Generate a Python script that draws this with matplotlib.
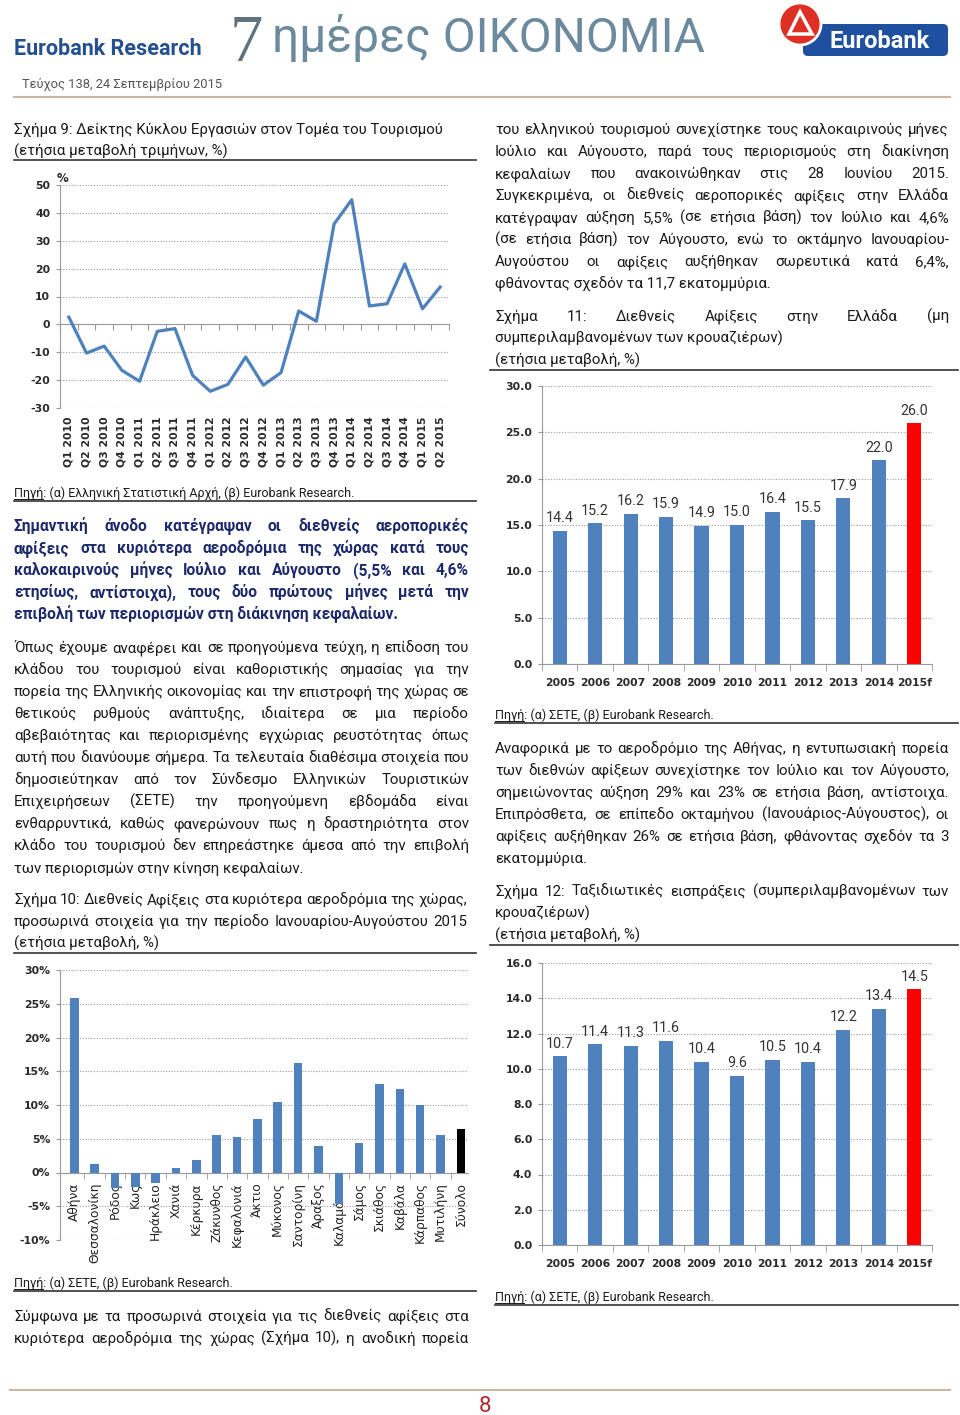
import matplotlib
matplotlib.use("Agg")
import matplotlib.pyplot as plt
import numpy as np
from matplotlib.lines import Line2D
from matplotlib.patches import Circle, FancyBboxPatch, Polygon
from matplotlib.ticker import FuncFormatter

W, H = 960, 1415

# ---- data ----
quarters = ["Q1 2010", "Q2 2010", "Q3 2010", "Q4 2010", "Q1 2011", "Q2 2011", "Q3 2011", "Q4 2011",
            "Q1 2012", "Q2 2012", "Q3 2012", "Q4 2012", "Q1 2013", "Q2 2013", "Q3 2013", "Q4 2013",
            "Q1 2014", "Q2 2014", "Q3 2014", "Q4 2014", "Q1 2015", "Q2 2015"]
turnover = [2.6, -10.3, -7.8, -16.5, -20.4, -2.5, -1.5, -18.3, -24.0, -21.5, -11.7, -21.8,
            -17.3, 4.8, 1.1, 36.0, 44.7, 6.6, 7.4, 21.7, 5.6, 13.4]

airports = ["Αθήνα", "Θεσσαλονίκη", "Ρόδος", "Κως", "Ηράκλειο", "Χανιά", "Κέρκυρα", "Ζάκυνθος",
            "Κεφαλονιά", "Άκτιο", "Μύκονος", "Σαντορίνη", "Άραξος", "Καλαμάτα", "Σάμος",
            "Σκιάθος", "Καβάλα", "Κάρπαθος", "Μυτιλήνη", "Σύνολο"]
airport_growth = [25.8, 1.3, -2.3, -2.1, -1.5, 0.6, 1.9, 5.5, 5.3, 7.9, 10.5, 16.2, 3.9, -4.7,
                  4.3, 13.1, 12.3, 10.0, 5.6, 6.4]

years = ["2005", "2006", "2007", "2008", "2009", "2010", "2011", "2012", "2013", "2014", "2015f"]
arrivals = [14.4, 15.2, 16.2, 15.9, 14.9, 15.0, 16.4, 15.5, 17.9, 22.0, 26.0]
receipts = [10.7, 11.4, 11.3, 11.6, 10.4, 9.6, 10.5, 10.4, 12.2, 13.4, 14.5]

BLUE = "#4f81bd"
TXT = "#1a1a1a"
NAVY = "#1c2a6c"
TICK = "#2a2a2a"
BODY = 10.8

plt.rcParams["font.family"] = ["Roboto", "DejaVu Sans"]

fig = plt.figure(figsize=(W / 100, H / 100), dpi=100)
renderer = fig.canvas.get_renderer()


def fx(x):
    return x / W


def fy(y):
    return 1 - y / H


def text(x, y, s, **kw):
    return fig.text(fx(x), fy(y), s, **kw)


def width(s, **kw):
    t = fig.text(0, 0, s, **kw)
    w = t.get_window_extent(renderer).width
    t.remove()
    return w


def hline(x0, x1, y, color="#333333", lw=1.2):
    fig.add_artist(Line2D([fx(x0), fx(x1)], [fy(y), fy(y)], color=color, lw=lw))


def para(lines, x0, x1, y0, full=None, step=22, **kw):
    kw.setdefault("fontsize", BODY)
    kw.setdefault("color", TXT)
    if full is None:
        full = len(lines) - 1
    for i, line in enumerate(lines):
        y = y0 + i * step + 5
        words = line.split()
        if i >= full or len(words) == 1:
            text(x0, y, line, va="baseline", **kw)
            continue
        ws = [width(w, **kw) for w in words]
        gap = (x1 - x0 - sum(ws)) / (len(words) - 1)
        x = x0
        for w, wd in zip(words, ws):
            text(x, y, w, va="baseline", **kw)
            x += wd + gap


def source(x0, x1, y, s):
    text(x0, y + 4, s, va="baseline", fontsize=9, color=TXT)
    w = width("Πηγή", fontsize=9)
    hline(x0, x0 + w, y + 6, color=TXT, lw=0.7)
    hline(x0, x1, y + 8)


def add_ax(x0, y0, x1, y1):
    return fig.add_axes([fx(x0), fy(y1), (x1 - x0) / W, (y1 - y0) / H])


def style(ax, ymin, ymax, step, fmt, zero_axis):
    ax.set_ylim(ymin, ymax)
    ax.set_yticks(np.arange(ymin, ymax + step / 2, step))
    ax.yaxis.set_major_formatter(FuncFormatter(fmt))
    ax.yaxis.grid(True, ls=(0, (1, 1.5)), color="#9a9a9a", lw=0.8)
    ax.set_axisbelow(True)
    for s in ["top", "right"]:
        ax.spines[s].set_visible(False)
    ax.spines["left"].set_color("#9a9a9a")
    ax.tick_params(axis="y", length=3, color="#9a9a9a", labelsize=7.8, pad=4, labelcolor=TICK)
    for lab in ax.get_yticklabels():
        lab.set_family("DejaVu Sans")
        lab.set_fontweight("bold")
    if zero_axis:
        ax.spines["bottom"].set_visible(False)
        ax.tick_params(axis="x", length=0, labelbottom=False)
        sec = ax.secondary_xaxis((0 - ymin) / (ymax - ymin))
        sec.spines["bottom"].set_color("#9a9a9a")
        return sec
    ax.spines["bottom"].set_color("#9a9a9a")
    return ax


# ---- header ----
text(14, 55, "Eurobank Research", fontsize=15.5, fontweight="bold", color="#24508f", va="baseline")
text(230, 61, "7", fontsize=48, family="Liberation Serif", color="#5e7282", va="baseline")
text(272, 52, "ημέρες ΟΙΚΟΝΟΜΙΑ", fontsize=34.5, color="#6c8a9e", va="baseline")
text(22, 88, "Τεύχος 138, 24 Σεπτεμβρίου 2015", fontsize=9.3, color="#555555", va="baseline")
hline(14, 950, 97, color="#c9b6a3", lw=1.5)

logo = add_ax(770, 0, 955, 65)
logo.set_xlim(770, 955)
logo.set_ylim(65, 0)
logo.axis("off")
logo.add_patch(FancyBboxPatch((803, 24), 145, 32, boxstyle="round,pad=0,rounding_size=5",
                              fc="#1f4f9f", ec="none"))
logo.text(880, 41, "Eurobank", color="white", fontsize=17, fontweight="bold", ha="center", va="center")
logo.add_patch(Circle((800, 24), 21, fc="#dd2f24", ec="white", lw=2))
logo.add_patch(Polygon([(789, 34), (800, 12), (812, 34)], closed=True, fill=False, ec="white", lw=2.5))

# ---- left column ----
para(["Σχήμα 9: Δείκτης Κύκλου Εργασιών στον Τομέα του Τουρισμού",
      "(ετήσια μεταβολή τριμήνων, %)"], 14, 469, 129, full=0)
hline(14, 476, 160)

ax9 = add_ax(60, 185, 449, 408)
xq = np.arange(len(quarters))
ax9.plot(xq, turnover, color=BLUE, lw=2.3)
ax9.set_xlim(-0.5, len(quarters) - 0.5)
sec9 = style(ax9, -30, 50, 10, lambda v, p: f"{v:.0f}", True)
sec9.set_xticks(np.arange(-0.5, len(quarters), 1))
sec9.set_xticklabels([])
sec9.tick_params(length=4, color="#9a9a9a")
ax9.tick_params(axis="x", labelbottom=True, pad=6, labelsize=7.8, labelcolor=TICK)
ax9.set_xticks(xq)
ax9.set_xticklabels(quarters, rotation=90, family="DejaVu Sans", fontweight="bold")
text(62, 182, "%", fontsize=8.5, family="DejaVu Sans", fontweight="bold", ha="center",
     va="baseline", color=TICK)

source(14, 476, 493, "Πηγή: (α) Ελληνική Στατιστική Αρχή, (β) Eurobank Research.")

para(["Σημαντική άνοδο κατέγραψαν οι διεθνείς αεροπορικές",
      "αφίξεις στα κυριότερα αεροδρόμια της χώρας κατά τους",
      "καλοκαιρινούς μήνες Ιούλιο και Αύγουστο (5,5% και 4,6%",
      "ετησίως, αντίστοιχα), τους δύο πρώτους μήνες μετά την",
      "επιβολή των περιορισμών στη διάκινηση κεφαλαίων."],
     14, 469, 526, color=NAVY, fontweight="bold", fontsize=11.2)

para(["Όπως έχουμε αναφέρει και σε προηγούμενα τεύχη, η επίδοση του",
      "κλάδου του τουρισμού είναι καθοριστικής σημασίας για την",
      "πορεία της Ελληνικής οικονομίας και την επιστροφή της χώρας σε",
      "θετικούς ρυθμούς ανάπτυξης, ιδιαίτερα σε μια περίοδο",
      "αβεβαιότητας και περιορισμένης εγχώριας ρευστότητας όπως",
      "αυτή που διανύουμε σήμερα. Τα τελευταία διαθέσιμα στοιχεία που",
      "δημοσιεύτηκαν από τον Σύνδεσμο Ελληνικών Τουριστικών",
      "Επιχειρήσεων (ΣΕΤΕ) την προηγούμενη εβδομάδα είναι",
      "ενθαρρυντικά, καθώς φανερώνουν πως η δραστηριότητα στον",
      "κλάδο του τουρισμού δεν επηρεάστηκε άμεσα από την επιβολή",
      "των περιορισμών στην κίνηση κεφαλαίων."], 14, 469, 647)

para(["Σχήμα 10: Διεθνείς Αφίξεις στα κυριότερα αεροδρόμια της χώρας,",
      "προσωρινά στοιχεία για την περίοδο Ιανουαρίου-Αυγούστου 2015",
      "(ετήσια μεταβολή, %)"], 14, 467, 899, full=2)
hline(14, 476, 953)

ax10 = add_ax(60, 970, 468, 1240)
xa = np.arange(len(airports))
ax10.bar(xa, airport_growth, width=0.42, color=[BLUE] * (len(airports) - 1) + ["black"])
ax10.set_xlim(-0.7, len(airports) - 0.65)
sec10 = style(ax10, -10, 30, 5, lambda v, p: f"{v:.0f}%", True)
sec10.set_xticks(xa)
sec10.set_xticklabels(airports, rotation=90, family="DejaVu Sans", fontsize=8.8, color="#222")
sec10.set_xticks(np.arange(0.5, len(airports) - 1, 1), minor=True)
sec10.tick_params(which="major", length=0, pad=7)
sec10.tick_params(which="minor", length=4, color="#9a9a9a")

source(14, 476, 1283, "Πηγή: (α) ΣΕΤΕ, (β) Eurobank Research.")

para(["Σύμφωνα με τα προσωρινά στοιχεία για τις διεθνείς αφίξεις στα",
      "κυριότερα αεροδρόμια της χώρας (Σχήμα 10), η ανοδική πορεία"], 14, 469, 1316, full=2)

# ---- right column ----
para(["του ελληνικού τουρισμού συνεχίστηκε τους καλοκαιρινούς μήνες",
      "Ιούλιο και Αύγουστο, παρά τους περιορισμούς στη διακίνηση",
      "κεφαλαίων που ανακοινώθηκαν στις 28 Ιουνίου 2015.",
      "Συγκεκριμένα, οι διεθνείς αεροπορικές αφίξεις στην Ελλάδα",
      "κατέγραψαν αύξηση 5,5% (σε ετήσια βάση) τον Ιούλιο και 4,6%",
      "(σε ετήσια βάση) τον Αύγουστο, ενώ το οκτάμηνο Ιανουαρίου-",
      "Αυγούστου οι αφίξεις αυξήθηκαν σωρευτικά κατά 6,4%,",
      "φθάνοντας σχεδόν τα 11,7 εκατομμύρια."], 495, 949, 129)

para(["Σχήμα 11: Διεθνείς Αφίξεις στην Ελλάδα (μη",
      "συμπεριλαμβανομένων των κρουαζιέρων)",
      "(ετήσια μεταβολή, %)"], 495, 949, 316, full=1)
hline(490, 958, 370)


def year_bars(ax, values, ymax, step):
    xy = np.arange(len(years))
    bars = ax.bar(xy, values, width=0.4, color=[BLUE] * (len(years) - 1) + ["#ff0000"])
    ax.bar_label(bars, labels=[f"{v:.1f}" for v in values], padding=4, fontsize=10.3, color="#333")
    ax.set_xlim(-0.5, len(years) - 0.5)
    style(ax, 0, ymax, step, lambda v, p: f"{v:.1f}", False)
    ax.set_xticks(xy)
    ax.set_xticklabels(years, family="DejaVu Sans", fontweight="bold")
    ax.set_xticks(np.arange(-0.5, len(years), 1), minor=True)
    ax.tick_params(axis="x", which="major", length=0, pad=10, labelsize=7.8, labelcolor=TICK)
    ax.tick_params(axis="x", which="minor", length=5, color="#9a9a9a")


ax11 = add_ax(542, 386, 932, 664)
year_bars(ax11, arrivals, 30, 5)

source(495, 958, 715, "Πηγή: (α) ΣΕΤΕ, (β) Eurobank Research.")

para(["Αναφορικά με το αεροδρόμιο της Αθήνας, η εντυπωσιακή πορεία",
      "των διεθνών αφίξεων συνεχίστηκε τον Ιούλιο και τον Αύγουστο,",
      "σημειώνοντας αύξηση 29% και 23% σε ετήσια βάση, αντίστοιχα.",
      "Επιπρόσθετα, σε επίπεδο οκταμήνου (Ιανουάριος-Αύγουστος), οι",
      "αφίξεις αυξήθηκαν 26% σε ετήσια βάση, φθάνοντας σχεδόν τα 3",
      "εκατομμύρια."], 495, 949, 748)

para(["Σχήμα 12: Ταξιδιωτικές εισπράξεις (συμπεριλαμβανομένων των",
      "κρουαζιέρων)",
      "(ετήσια μεταβολή, %)"], 495, 949, 891, full=1)
hline(490, 958, 945)

ax12 = add_ax(542, 963, 932, 1245)
year_bars(ax12, receipts, 16, 2)

source(495, 958, 1297, "Πηγή: (α) ΣΕΤΕ, (β) Eurobank Research.")

# ---- footer ----
hline(10, 950, 1390, color="#c9b6a3", lw=1.5)
text(485, 1412, "8", fontsize=16, color="#b5242a", ha="center", va="baseline")

fig.savefig("out.png", dpi=100)
